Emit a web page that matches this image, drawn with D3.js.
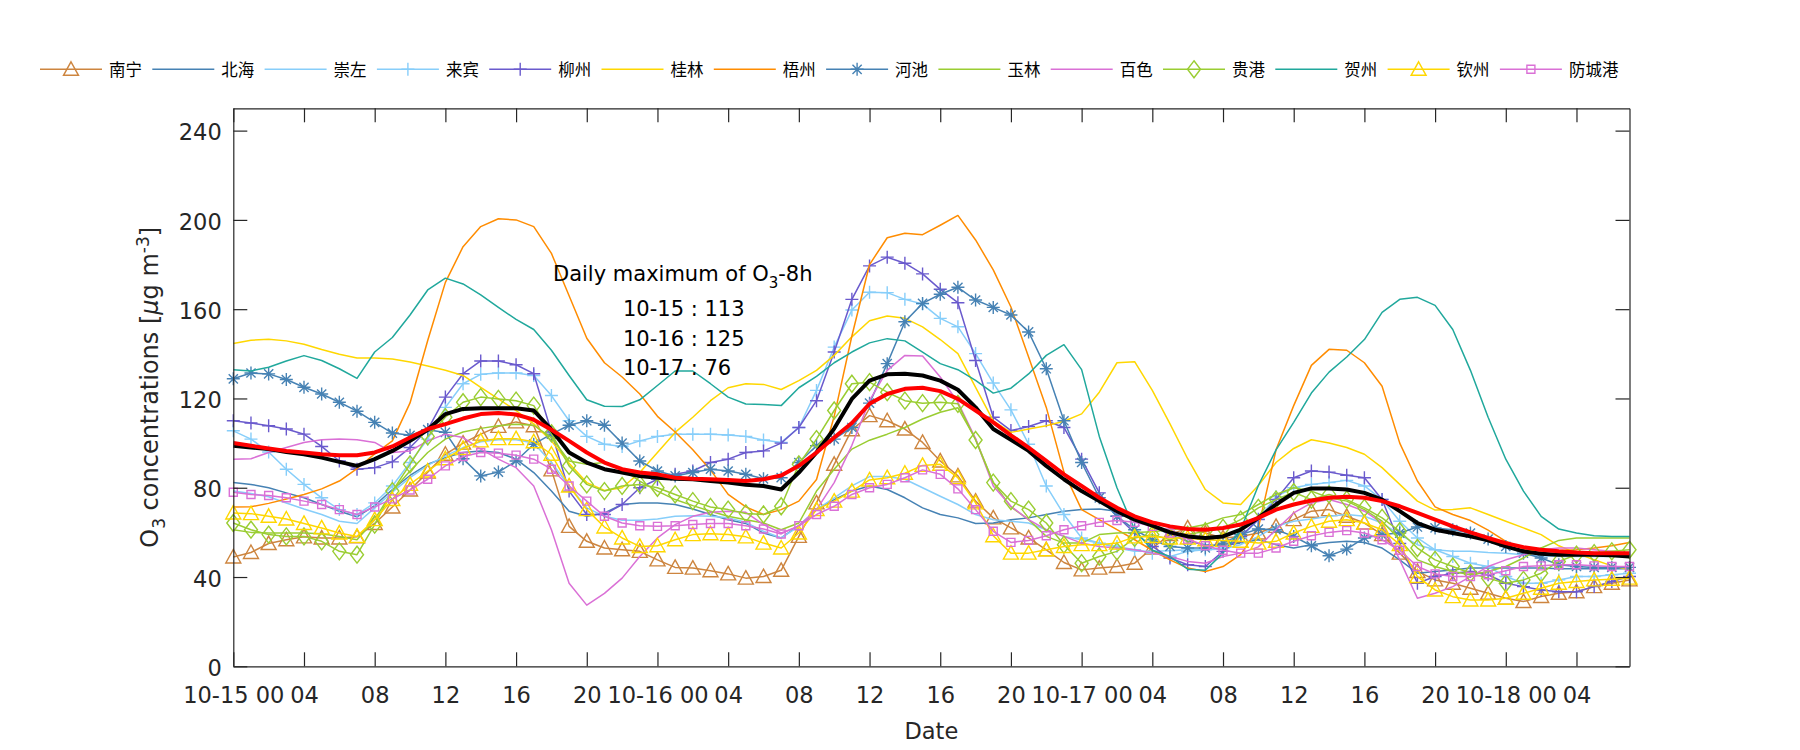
<!DOCTYPE html>
<html><head><meta charset="utf-8">
<script src="https://cdn.jsdelivr.net/npm/d3@7"></script>
<style>body{margin:0;background:#fff}</style>
</head><body>
<svg id="chart" width="1800" height="750"></svg>
<script>
// ---------------- data ----------------
const hours = d3.range(80); // hourly, 10-15 00 .. 10-18 07
const cityNames = ["南宁","北海","崇左","来宾","柳州","桂林","梧州","河池","玉林","百色","贵港","贺州","钦州","防城港"];
const nanning = [49,51,55,56.7,58,57.5,57.5,58,64,71.4, 79,87,95,100,104,107.5,109.5,107.8,88,62.7, 56,53,52.2,51.5,47.7,44.3,44,42.8,41.4,39.5, 40.2,43,58.2,73.2,90.5,106,112.3,110,106.3,100.3, 92,85.3,74,66.5,62,57.5,52.2,46.5,43.2,44, 44.7,46.2,53,59,62,59.7,57.5,58.2,59.7,62.7, 65.7,69.5,70.2,67.2,64.2,59,50.7,42.5,38.7,37.2, 35,32.7,30.5,29,31.3,32.7,33.4,35.7,37.2,38.7];
const beihai = [82.3,81.5,80,77.7,75.5,72.5,69.5,67,72,79.2, 85.5,90.5,93.5,95.8,96.5,95.8,92.8,86.8,78.5,69.5, 67.2,68.7,72.5,73.2,73.2,72.5,70.5,68,65.7,64, 59.7,57.5,63,70.2,74.7,78.5,80.8,79.2,75.5,71, 68,66.5,64,64.2,65.7,66.5,68,69.5,70.2,70.5, 69.5,65.7,62.7,59,56,54.5,54,55.2,56.7,54.5, 53,54.5,55.5,56,55.5,53,47.7,41.7,42.5,43.2, 44,44,44,44,44,43.7,43.7,43.7,43.7,43.7];
const chongzuo = [78.5,77.4,76,73.2,70.5,68,65,64,71,78, 84.5,90,94.3,98,100.6,101.5,101.5,100,91.3,80.8, 71,67.2,65.4,65.4,66,67.2,67.5,67.2,66.5,64.5, 60.5,57.5,62.7,70.2,75.5,80.8,85,85,83.8,80, 76.2,72.5,68,65.7,65,64.2,61.2,58.2,56.7,55.2, 53,51.5,51.5,51.8,52.2,52.2,52.5,54.5,58.2,62.7, 65,66,67.2,68,67.2,64.2,59,54.5,52.2,51.5, 51.5,51,50.7,50,49.5,49.2,49.2,49.2,49.2,49.2];
const laibin = [105.5,101.8,96,88.3,81.5,75.5,70.2,68,73.2,80.8, 91.3,101.8,116,126.6,130.8,131.4,131.4,130.3,121.3,110, 103,99.5,98.5,101,103,104,104,104,103.6,103, 101.4,100.3,107,123.6,143,159.6,167.6,167.4,164.4,162.3, 155.9,152.1,140.1,126.9,114.9,99.5,80.8,68,57.5,55.2, 53.7,52.2,50.7,49.2,51.5,52.2,53,57.5,66,76, 80,81.5,82.3,83.3,80.8,74.7,65,57.5,52.2,49.2, 46.2,44.7,40.2,37.2,37.2,38.7,40.2,40.2,41,41.7];
const liuzhou = [110,109,107.8,106.3,104,98.5,92,88.3,89,91.6, 98,106,120.6,131.1,136.8,136.8,135.1,131.1,105,78.5, 68,68,72.5,80,83.8,86,87.5,91.3,92.8,95.8, 96.5,100,107,119,140.8,164.4,179.4,183.3,180.6,175.8, 168.9,162.9,137,111.6,105.6,107.4,110,107,92.8,77.7, 67.2,59.7,53.7,48.5,45.5,44.7,51.5,58.2,65.7,74.7, 84.5,87.5,87,85.6,84.5,74.7,55,37.2,40.2,41.7, 42.5,41,37.2,35.7,34.2,33.4,33.4,35.7,38,40.2];
const guilin = [144.6,146.1,146.5,145.8,144.3,141.9,139.8,138.1,138.1,137.7, 136.3,134.5,132.6,130.3,125,119.8,114.6,108.6,101,91, 82.3,78.8,80,86.8,95.8,104.8,111.6,119,124.8,126.6, 126.3,124,128,132.6,139.3,147.6,154.8,156.9,155.9,152.1, 146.4,140.1,125,110,104.8,106.3,107.8,109.8,113.1,122.8, 136,136.5,123.6,108.6,93,79.2,73.2,72.5,81,91.3, 97.6,101.5,100,98,95,89,81.5,74,70,70.2, 71,68,65,62,59,54,50.7,47.7,45,43.2];
const wuzhou = [71.4,71.5,73,75,77,79.5,83,88.6,95.2,101, 118,146,172,188,197,200.5,200,197,185,166, 147,136,129.6,122,112,105,97,88,77,71.4, 68,70.2,74,83.7,112,148,180,192,194,193.4, 197.6,202,191,177.6,161,138.6,116,87,70.2,65.7, 61.2,56.7,52,47.7,44,42.5,44.7,50,62,97, 116.8,134.8,142,141.6,136,125.5,100,83,71.4,68, 65.3,61,56,52.5,51.5,51.8,52.2,53,54,55.5];
const hechi = [128.8,131.4,131,128.5,125,122,118.3,114.3,109.3,104.5, 103.5,106,104.8,93,85.3,87,92,99.5,104,108, 110,108,100,92,87.5,85.3,86.8,88.3,87.5,86, 84,84.5,91.3,98.8,101.8,107,117.9,135.6,154.4,162.6, 166.7,169.8,164.1,160.8,157.4,149.8,133.3,110,91.3,75.5, 67.2,61.2,56.7,53.7,53,53,55.2,59,61.5,61.2, 58.2,54,49.5,52.5,57.5,59,59.7,62.4,62,61.2, 59.7,57,53.7,50.7,48.5,45.5,44.7,44.3,44.3,44.3];
const yulin = [61.2,60,59.7,59.7,59.7,59.4,58.2,56.7,65.7,78.5, 87.5,95.8,101.8,105,106.6,107.8,108.5,108,102.5,92, 90.5,91.3,88.3,83,78.5,74.7,72,69.5,67.2,65.7, 64.2,61.2,64.2,78.5,88.3,97.3,101.3,104,107,110.8, 113.8,115.8,101.8,82.3,71.4,65.7,58.2,55.2,55.2,59, 59.7,60,60.3,61.2,62,63.5,66.5,68,72.5,77, 80,78.5,75.5,74,70.2,65,56.7,47.7,44.7,42.5, 41,42.5,44.7,48.5,53,56.4,57.5,57.5,57.5,57.5];
const baise = [92.8,93,95.8,98,100.3,101.5,101.8,101.5,100.3,95.8, 96.5,101,104,102.5,97.3,92.8,89,80.8,61.2,37.2, 27.4,32.7,39.5,49.2,57.5,63.5,67.2,69,69.5,69, 63.5,59.7,62.7,70.2,82.3,99,119,132.6,139.3,139, 129.6,118.3,102,80.8,71.7,65.7,61.2,58.2,55.2,53.7, 53,52.2,50.7,49.2,47,46.2,49.2,50.7,53.5,61.2, 68.7,73.2,74.7,72.5,69.5,64.2,47.7,30.5,32.7,35.7, 40.2,44.7,47.7,50,52.2,53,53,52.2,51.5,50.7];
const guigang = [64.2,61.2,59,58.2,58.2,56,51.5,50,63.5,78.5, 90.5,103,111.6,118.3,120.6,119.8,119,116.8,104.4,89.8, 81.5,78.5,80.8,81.5,80,77,74,71.4,70.2,68.5, 68,71.7,90.5,101.8,114.6,126.6,127.3,122.8,119,117.9, 118.3,117.6,101.4,82.3,74,70.2,64.2,54.5,46.2,49.2, 51.5,57.5,59,56.7,59,60.5,62,65.7,71,74.7, 78,74.7,77,74.7,71,66.5,60.5,53,47.7,44.7, 41.7,39.5,37.2,38.7,41.7,47,50,50.7,51.5,52.2];
const hezhou = [132.9,132.3,134,136.8,139.2,137,133.3,129,140.8,147.3, 157.4,168.6,173.9,171.3,166.4,160.8,155.4,150.9,141.6,130.3, 119.4,116.5,116.4,119.4,125.8,132.3,132.3,126.6,120.6,117.5, 117.3,116.8,124.8,129.9,136,140.8,144.9,146.8,145.8,140.8, 135.6,132.9,128.1,122.4,124.6,131,139.3,144.1,132.9,103, 80,61.2,52,49.2,43.5,43,50.7,61.2,81,97, 109.3,122.4,131.8,138.6,146.4,158.6,164.4,165.3,161.7,150.9, 132.6,111.6,92.8,78.5,67.2,61.5,59.7,58.5,58.2,58.2];
const qinzhou = [68.7,68.4,67.2,66,64,62,59.7,58.2,65.7,74.7, 81.5,87.5,93,97.6,101,102,102,100.6,95,80.8, 70.2,62.4,57.5,53.7,54,56.7,59,59.4,59,58, 55.2,53,59.7,70.2,74,78.5,83.5,84.5,86.5,90, 90.5,84.5,73.2,58.5,50.7,50.7,52.2,53.7,54.5,54.5, 55.2,58,58.2,57.5,57.5,56.7,56.4,56,55.2,56, 59.7,62.7,65,65.7,64.2,61.2,54.5,40.2,34.2,31.2, 29.7,29.7,30.5,32.7,35,37.2,38,38.7,39,39.5];
const fangchenggang = [78,77,76.5,75.5,74,72.5,70.2,68,71.4,75, 79,83.8,89.8,94,95.8,95.5,94.6,92.8,88.3,80.8, 74,67.2,64.2,63,62.7,63,63.5,64,64,63, 61.5,59.3,63,68,71.7,77,80,81.5,84.5,88, 86,79.5,70.2,60.5,55.5,56.4,58.5,61.2,63,64.5, 65.3,64.5,62.7,59.7,57,54,52,50.7,50.7,53, 56,58.5,60,60.8,59.7,56.7,52,44.7,41.4,40.2, 40.2,41,42.8,44.7,45,45.5,45.5,45,44.7,44.7];
const regionMean = [98.8,98,97.3,96,95,93.5,91.6,89.8,92.8,96.5, 101,106,113,115.3,115.6,115.6,115.6,114.6,106,95.8, 91.3,88.3,86.8,85.3,84.5,84,83.8,83,82.3,81.3, 80.8,79.2,86.8,95.8,106.5,119.8,128,130.8,131.1,130.3, 128,123.9,116,106.3,101.5,96.5,89.8,83.8,78.5,74, 69.5,65.7,63,60,58.2,57.5,58.2,61.2,66.5,72.5, 77.7,79.7,79.7,79.2,77.7,74.7,69.5,64.2,61.2,59.7, 58.2,56.4,53.7,51.5,50.4,50,50,50,49.7,49.2];
const regionMean8h = [100,98.8,97.6,96.5,95.8,95,94.6,94.6,95.8,98.5, 102.5,106.3,108.5,111,113,113.5,112.8,110.5,106,101, 95.8,91.3,88.3,86.8,86,84.5,84,83.8,83.5,83, 83.8,85.5,89.8,95.8,102.5,109,117.6,122,124.3,124.8, 123.3,119.8,114.6,109.3,103.5,98,92,86,80.8,75.5, 71,67.2,64.5,62.7,61.5,61.2,62,63.5,66.5,70.2, 72.5,74.3,75.5,76,75.5,74,71.7,68.7,65.7,62.7, 60,57.5,55.2,53.4,52.2,51.5,51,50.7,50.7,50.7];
const tickHours = d3.range(0, 80, 4);
const tickLabels = ["10-15 00","04","08","12","16","20","10-16 00","04","08","12","16","20","10-17 00","04","08","12","16","20","10-18 00","04"];
const yTicks = [0,40,80,120,160,200,240];
const dailyMaxLines = ["10-15 : 113","10-16 : 125","10-17 : 76"];

const cityData = [nanning,beihai,chongzuo,laibin,liuzhou,guilin,wuzhou,hechi,yulin,baise,guigang,hezhou,qinzhou,fangchenggang];
const cityColors = ["#CD853F","#4682B4","#87CEFA","#87CEFA","#6A5ACD","#FFD700","#FF8C00","#4682B4","#9ACD32","#DA70D6","#9ACD32","#20A89C","#FFD700","#DA70D6"];
const cityMarkers = ["tri","none","none","plus","plus","none","none","star","none","none","diamond","none","tri","square"];

// ---------------- chart ----------------
const svg = d3.select("#chart");
const X0 = 233.3, X1 = 1629.5, Y0 = 666.3, Y1 = 108.3;
const x = d3.scaleLinear().domain([0, 79]).range([X0, X1]);
const y = d3.scaleLinear().domain([0, 250]).range([Y0, Y1]);
const axisColor = "#262626";
const tickFont = "'DejaVu Sans', sans-serif";

const markerPath = {
  tri: "M0,-7.5L7.5,6L-7.5,6Z",
  diamond: "M0,-8.5L6.5,0L0,8.5L-6.5,0Z",
  square: "M-4,-4H4V4H-4Z",
  plus: "M-6.5,0H6.5M0,-6.5V6.5",
  star: "M-6.5,0H6.5M0,-6.5V6.5M-4.6,-4.6L4.6,4.6M-4.6,4.6L4.6,-4.6",
  none: null
};

const line = d3.line().x((d, i) => x(hours[i])).y(d => y(d));
const plot = svg.append("g");

cityData.forEach((data, k) => {
  const g = plot.append("g");
  g.append("path").attr("d", line(data)).attr("fill", "none")
    .attr("stroke", cityColors[k]).attr("stroke-width", 1.5).attr("stroke-linejoin", "round");
  const mp = markerPath[cityMarkers[k]];
  if (mp) {
    g.selectAll("path.m").data(data).join("path").attr("class", "m")
      .attr("d", mp).attr("transform", (d, i) => `translate(${x(hours[i])},${y(d)})`)
      .attr("fill", "none").attr("stroke", cityColors[k]).attr("stroke-width", 1.4);
  }
});
plot.append("path").attr("d", line(regionMean)).attr("fill", "none")
  .attr("stroke", "#000").attr("stroke-width", 4).attr("stroke-linejoin", "round");
plot.append("path").attr("d", line(regionMean8h)).attr("fill", "none")
  .attr("stroke", "#FF0000").attr("stroke-width", 4).attr("stroke-linejoin", "round");

// axes
function styleAxis(g) {
  g.select(".domain").attr("stroke", axisColor).attr("stroke-width", 1.2);
  g.selectAll(".tick line").attr("stroke", axisColor).attr("stroke-width", 1.2);
  g.selectAll(".tick text").attr("fill", axisColor).style("font-family", tickFont).style("font-size", "22.5px");
}
svg.append("g").attr("transform", `translate(0,${Y0})`)
  .call(d3.axisBottom(x).tickValues(tickHours).tickFormat((d, i) => tickLabels[i]).tickSizeInner(-14).tickSizeOuter(0).tickPadding(20.5))
  .call(styleAxis);
svg.append("g").attr("transform", `translate(0,${Y1})`)
  .call(d3.axisTop(x).tickValues(tickHours).tickFormat("").tickSizeInner(-14).tickSizeOuter(0))
  .call(styleAxis);
const yl = svg.append("g").attr("transform", `translate(${X0},0)`)
  .call(d3.axisLeft(y).tickValues(yTicks).tickSizeInner(-14).tickSizeOuter(0).tickPadding(11.6))
  .call(styleAxis);
yl.selectAll(".tick text").attr("dy", "0.41em");
svg.append("g").attr("transform", `translate(${X1},0)`)
  .call(d3.axisRight(y).tickValues(yTicks).tickFormat("").tickSizeInner(-14).tickSizeOuter(0))
  .call(styleAxis);

// axis titles
svg.append("text").attr("x", (X0 + X1) / 2).attr("y", 739).attr("text-anchor", "middle")
  .attr("fill", axisColor).style("font-family", tickFont).style("font-size", "22.5px").text("Date");

const yt = svg.append("text").attr("transform", `translate(158,${(Y0 + Y1) / 2}) rotate(-90)`)
  .attr("text-anchor", "middle").attr("fill", axisColor)
  .style("font-family", tickFont).style("font-size", "24px");
yt.append("tspan").text("O");
yt.append("tspan").attr("dy", 7).style("font-size", "17px").text("3");
yt.append("tspan").attr("dy", -7).text(" concentrations [");
yt.append("tspan").style("font-style", "italic").text("μ");
yt.append("tspan").text("g m");
yt.append("tspan").attr("dy", -9).style("font-size", "17px").text("-3");
yt.append("tspan").attr("dy", 9).text("]");

// annotation
const ann = svg.append("text").attr("x", 553).attr("y", 281).attr("fill", "#000")
  .style("font-family", tickFont).style("font-size", "21px");
ann.append("tspan").text("Daily maximum of O");
ann.append("tspan").attr("dy", 7).style("font-size", "15px").text("3");
ann.append("tspan").attr("dy", -7).text("-8h");
dailyMaxLines.forEach((t, i) => {
  svg.append("text").attr("x", 623).attr("y", 316 + i * 29.5).attr("fill", "#000")
    .style("font-family", tickFont).style("font-size", "21px").text(t);
});

// legend
const leg = svg.append("g");
cityNames.forEach((name, k) => {
  const lx = 40 + 112.3 * k, ly = 69.3;
  leg.append("line").attr("x1", lx).attr("x2", lx + 62).attr("y1", ly).attr("y2", ly)
    .attr("stroke", cityColors[k]).attr("stroke-width", 1.5);
  const mp = markerPath[cityMarkers[k]];
  if (mp) leg.append("path").attr("d", mp).attr("transform", `translate(${lx + 31},${ly})`)
    .attr("fill", "none").attr("stroke", cityColors[k]).attr("stroke-width", 1.4);
  leg.append("text").attr("x", lx + 69).attr("y", ly).attr("dominant-baseline", "central")
    .attr("fill", "#000").style("font-family", "'Noto Sans CJK SC', sans-serif").style("font-size", "16.5px").text(name);
});
</script>
</body></html>
